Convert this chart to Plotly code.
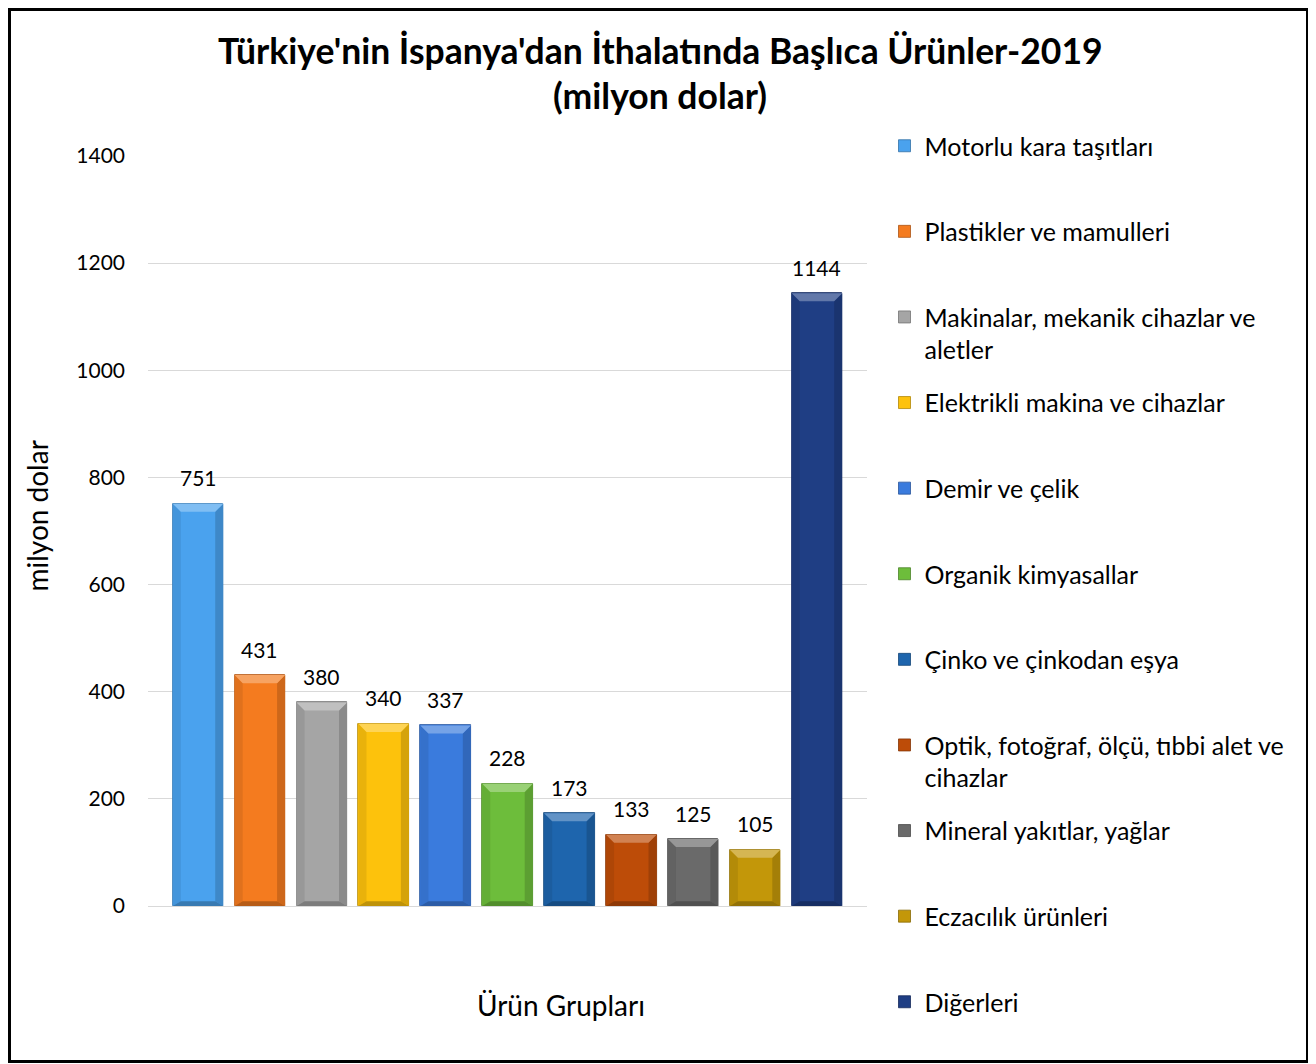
import plotly.graph_objects as go

categories = [
    "Motorlu kara taşıtları",
    "Plastikler ve mamulleri",
    "Makinalar, mekanik cihazlar ve<br>aletler",
    "Elektrikli makina ve cihazlar",
    "Demir ve çelik",
    "Organik kimyasallar",
    "Çinko ve çinkodan eşya",
    "Optik, fotoğraf, ölçü, tıbbi alet ve<br>cihazlar",
    "Mineral yakıtlar, yağlar",
    "Eczacılık ürünleri",
    "Diğerleri",
]
values = [751, 431, 380, 340, 337, 228, 173, 133, 125, 105, 1144]
colors = ["#4aa2ee", "#f47b1f", "#a5a5a5", "#fdc20c", "#3a7bdd", "#6dbd3b",
          "#1e65ad", "#bd4c08", "#6a6a6a", "#c39709", "#1f3e84"]
y_ticks = [0, 200, 400, 600, 800, 1000, 1200, 1400]
title_lines = ["Türkiye'nin İspanya'dan İthalatında Başlıca Ürünler-2019", "(milyon dolar)"]
x_title = "Ürün Grupları"
y_title = "milyon dolar"

FONT = "Lato"
# page has an 8px body margin; figure coordinates = page coordinates - 8
W, H = 1308, 1056
L, T = 140, 148
PR, PB = 859, 898          # plot right / bottom in figure px
R, B = W - PR, H - PB
pw, ph = PR - L, PB - T


def mix(hexc, other, t):
    hexc = hexc.lstrip("#")
    r, g, b = int(hexc[0:2], 16), int(hexc[2:4], 16), int(hexc[4:6], 16)
    o = (255, 255, 255) if other == "w" else (0, 0, 0)
    r = round(r + (o[0] - r) * t)
    g = round(g + (o[1] - g) * t)
    b = round(b + (o[2] - b) * t)
    return f"rgb({r},{g},{b})"


def cx(px):
    return px / W


def cy(px):
    return 1 - px / H


def px_x(px):
    return (px - L) / pw


def px_y(py):
    return (PB - py) / ph


fig = go.Figure()
bw = 0.816
for i, (name, v, c) in enumerate(zip(categories, values, colors)):
    leg = "legend" if i == 0 else f"legend{i+1}"
    fig.add_trace(go.Bar(
        x=[i], y=[v], name=name, width=bw,
        marker=dict(color=c, line=dict(color=mix(c, "k", 0.3), width=0.8)),
        legend=leg, hoverinfo="name+y",
    ))

annotations = []
for i, v in enumerate(values):
    annotations.append(dict(x=i, y=v, xref="x", yref="y", text=str(v), showarrow=False,
                            yanchor="middle", yshift=26,
                            font=dict(family=FONT, size=21, color="#000000")))

# titles
annotations.append(dict(x=px_x(652), y=px_y(42), xref="paper", yref="paper",
                        text=f"<b>{title_lines[0]}</b>", showarrow=False,
                        xanchor="center", yanchor="middle",
                        font=dict(family=FONT, size=35.5, color="#000000")))
annotations.append(dict(x=px_x(652), y=px_y(88), xref="paper", yref="paper",
                        text=f"<b>{title_lines[1]}</b>", showarrow=False,
                        xanchor="center", yanchor="middle",
                        font=dict(family=FONT, size=35.5, color="#000000")))
annotations.append(dict(x=px_x(553), y=px_y(997), xref="paper", yref="paper",
                        text=x_title, showarrow=False, xanchor="center", yanchor="middle",
                        font=dict(family=FONT, size=28, color="#000000")))
annotations.append(dict(x=px_x(28), y=px_y(508.5), xref="paper", yref="paper",
                        text=y_title, showarrow=False, xanchor="center", yanchor="middle",
                        textangle=-90,
                        font=dict(family=FONT, size=28, color="#000000")))

# bevel effect computed from the data values
dx = 0.13
dy = 15
shapes = []
for i, (v, c) in enumerate(zip(values, colors)):
    x0, x1 = i - bw / 2, i + bw / 2
    top = f"M{x0},{v} L{x1},{v} L{x1-dx},{v-dy} L{x0+dx},{v-dy} Z"
    bot = f"M{x0},0 L{x1},0 L{x1-dx},{dy*0.6} L{x0+dx},{dy*0.6} Z"
    left = f"M{x0},{v} L{x0+dx},{v-dy} L{x0+dx},{dy*0.6} L{x0},0 Z"
    right = f"M{x1},{v} L{x1-dx},{v-dy} L{x1-dx},{dy*0.6} L{x1},0 Z"
    shapes.append(dict(type="path", path=left, xref="x", yref="y",
                       fillcolor=mix(c, "k", 0.08), line=dict(width=0), layer="above"))
    shapes.append(dict(type="path", path=right, xref="x", yref="y",
                       fillcolor=mix(c, "k", 0.16), line=dict(width=0), layer="above"))
    shapes.append(dict(type="path", path=top, xref="x", yref="y",
                       fillcolor=mix(c, "w", 0.30), line=dict(width=0), layer="above"))
    shapes.append(dict(type="path", path=bot, xref="x", yref="y",
                       fillcolor=mix(c, "k", 0.25), line=dict(width=0), layer="above"))

# outer border (figure px)
shapes.append(dict(type="rect", xref="paper", yref="paper",
                   x0=px_x(1.5), x1=px_x(1299.5),
                   y0=px_y(1053.5), y1=px_y(1.5),
                   line=dict(color="#000000", width=3), fillcolor="rgba(0,0,0,0)"))

layout = dict(
    width=W, height=H,
    margin=dict(l=L, r=R, t=T, b=B),
    paper_bgcolor="white", plot_bgcolor="white",
    font=dict(family=FONT, color="#000000"),
    xaxis=dict(range=[-0.808, 10.808], showticklabels=False, showgrid=False,
               zeroline=False, showline=False, ticks="", fixedrange=True),
    yaxis=dict(range=[0, 1400], tickvals=y_ticks, showgrid=True, gridcolor="#d9d9d9",
               gridwidth=1, zeroline=True, zerolinecolor="#d9d9d9", zerolinewidth=1,
               showline=False, ticks="", ticklabelstandoff=22, fixedrange=True,
               tickfont=dict(family=FONT, size=21)),
    bargap=0, showlegend=True, shapes=shapes, annotations=annotations,
)

for i in range(len(categories)):
    key = "legend" if i == 0 else f"legend{i+1}"
    yc = 137 + 85.6 * i
    layout[key] = dict(
        x=cx(876.5), xref="container", xanchor="left",
        y=cy(yc - 22), yref="container", yanchor="top",
        valign="top", bgcolor="rgba(0,0,0,0)",
        font=dict(family=FONT, size=25, color="#000000"),
        itemclick=False, itemdoubleclick=False,
    )

fig.update_layout(**layout)
fig.write_html("out.html")
